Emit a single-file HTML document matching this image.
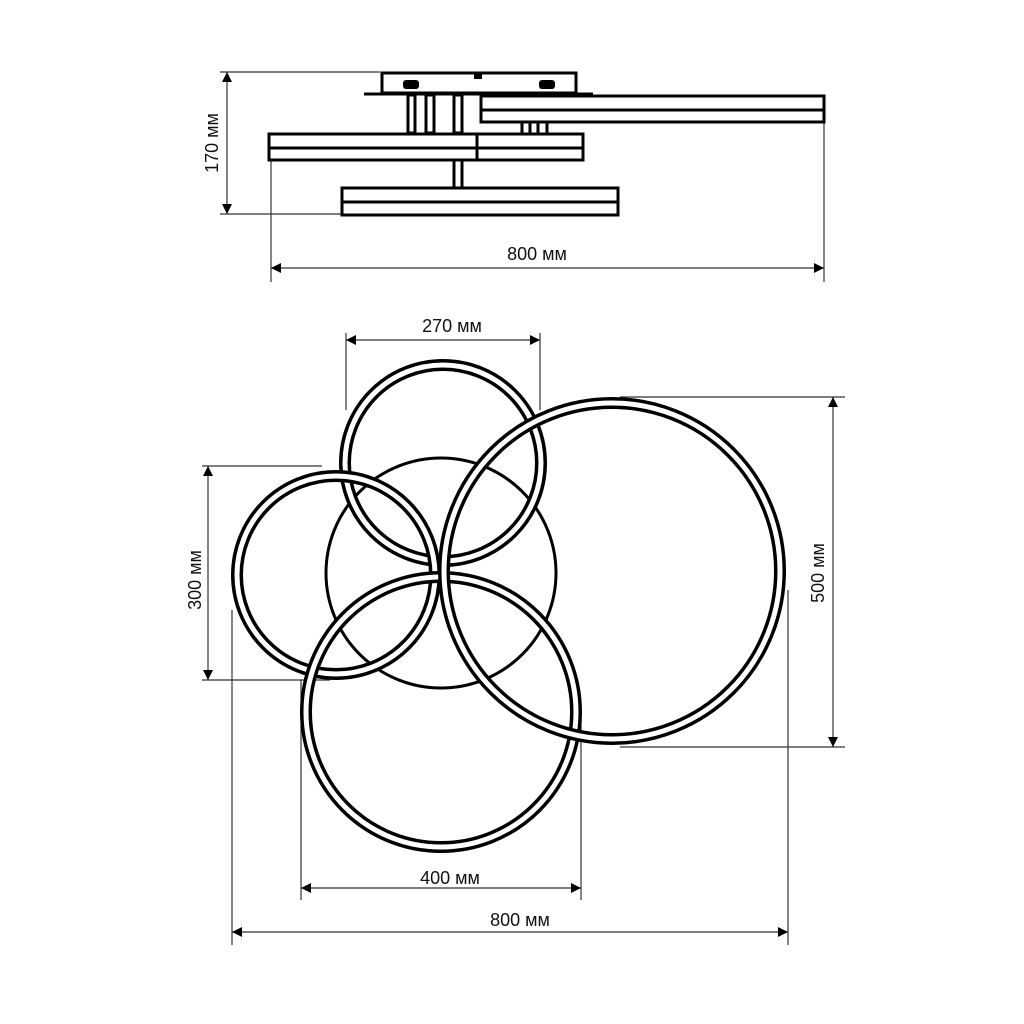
<!DOCTYPE html>
<html><head><meta charset="utf-8"><style>
html,body{margin:0;padding:0;background:#fff}
svg{display:block}
text{font-family:"Liberation Sans",sans-serif;font-size:18px;fill:#111}
</style></head><body>
<svg width="1024" height="1024" viewBox="0 0 1024 1024" xmlns="http://www.w3.org/2000/svg">
<defs>
<marker id="a" viewBox="0 0 10 10" refX="10" refY="5" markerWidth="10" markerHeight="10" markerUnits="userSpaceOnUse" orient="auto-start-reverse"><path d="M10,5 L0,0 L0,10 Z" fill="#000"/></marker>
</defs>
<g fill="none" stroke="#333" stroke-width="1.2">
<line x1="220" y1="72" x2="380" y2="72"/>
<line x1="220" y1="214" x2="342" y2="214"/>
<line x1="227" y1="72" x2="227" y2="214" marker-start="url(#a)" marker-end="url(#a)"/>
<line x1="271" y1="140" x2="271" y2="282"/>
<line x1="824" y1="100" x2="824" y2="282"/>
<line x1="271" y1="268" x2="824" y2="268" marker-start="url(#a)" marker-end="url(#a)"/>
<line x1="346" y1="333" x2="346" y2="410"/>
<line x1="540" y1="333" x2="540" y2="410"/>
<line x1="346" y1="340" x2="540" y2="340" marker-start="url(#a)" marker-end="url(#a)"/>
<line x1="202" y1="466" x2="322" y2="466"/>
<line x1="202" y1="680" x2="330" y2="680"/>
<line x1="208" y1="466" x2="208" y2="680" marker-start="url(#a)" marker-end="url(#a)"/>
<line x1="620" y1="397" x2="845" y2="397"/>
<line x1="620" y1="747" x2="845" y2="747"/>
<line x1="833" y1="397" x2="833" y2="747" marker-start="url(#a)" marker-end="url(#a)"/>
<line x1="301" y1="680" x2="301" y2="900"/>
<line x1="581" y1="720" x2="581" y2="900"/>
<line x1="301" y1="888" x2="581" y2="888" marker-start="url(#a)" marker-end="url(#a)"/>
<line x1="232" y1="610" x2="232" y2="945"/>
<line x1="788" y1="590" x2="788" y2="945"/>
<line x1="232" y1="932" x2="788" y2="932" marker-start="url(#a)" marker-end="url(#a)"/>
</g>
<text x="212" y="143" text-anchor="middle" transform="rotate(-90 212 143)" dy="6">170 мм</text>
<text x="537" y="260" text-anchor="middle">800 мм</text>
<text x="452" y="332" text-anchor="middle">270 мм</text>
<text x="195" y="580" text-anchor="middle" transform="rotate(-90 195 580)" dy="6">300 мм</text>
<text x="818" y="573" text-anchor="middle" transform="rotate(-90 818 573)" dy="6">500 мм</text>
<text x="450" y="884" text-anchor="middle">400 мм</text>
<text x="520" y="926" text-anchor="middle">800 мм</text>

<g fill="#fff" stroke="#000" stroke-width="3">
<rect x="382" y="73" width="194" height="20"/>
<line x1="364" y1="94" x2="593" y2="94" stroke-width="3"/>
<rect x="481" y="96" width="343" height="26"/>
<line x1="481" y1="110" x2="824" y2="110"/>
<rect x="408" y="95" width="7" height="38"/>
<rect x="426" y="95" width="8" height="38"/>
<rect x="454" y="95" width="8" height="38"/>
<rect x="522" y="122" width="8" height="12"/>
<rect x="538" y="122" width="9" height="12"/>
<rect x="269" y="134" width="314" height="26"/>
<line x1="269" y1="148" x2="583" y2="148"/>
<line x1="477" y1="134" x2="477" y2="160"/>
<rect x="454" y="160" width="8" height="28"/>
<rect x="342" y="188" width="276" height="27"/>
<line x1="342" y1="202" x2="618" y2="202"/>
</g>
<g fill="#000">
<rect x="403" y="80" width="16" height="9" rx="3"/>
<rect x="539" y="80" width="16" height="9" rx="3"/>
<rect x="474" y="73" width="8" height="6"/>
</g>

<circle cx="441" cy="573" r="115" fill="#fff" stroke="#000" stroke-width="3"/>
<g fill="none">
<circle cx="443" cy="463" r="98" stroke="#000" stroke-width="12"/>
<circle cx="443" cy="463" r="98" stroke="#fff" stroke-width="5"/>
<circle cx="336" cy="575" r="99" stroke="#000" stroke-width="12"/>
<circle cx="336" cy="575" r="99" stroke="#fff" stroke-width="5"/>
<circle cx="441" cy="712" r="135" stroke="#000" stroke-width="12"/>
<circle cx="441" cy="712" r="135" stroke="#fff" stroke-width="5"/>
<circle cx="612" cy="571" r="168" stroke="#000" stroke-width="12"/>
<circle cx="612" cy="571" r="168" stroke="#fff" stroke-width="5"/>
</g>
</svg>
</body></html>
